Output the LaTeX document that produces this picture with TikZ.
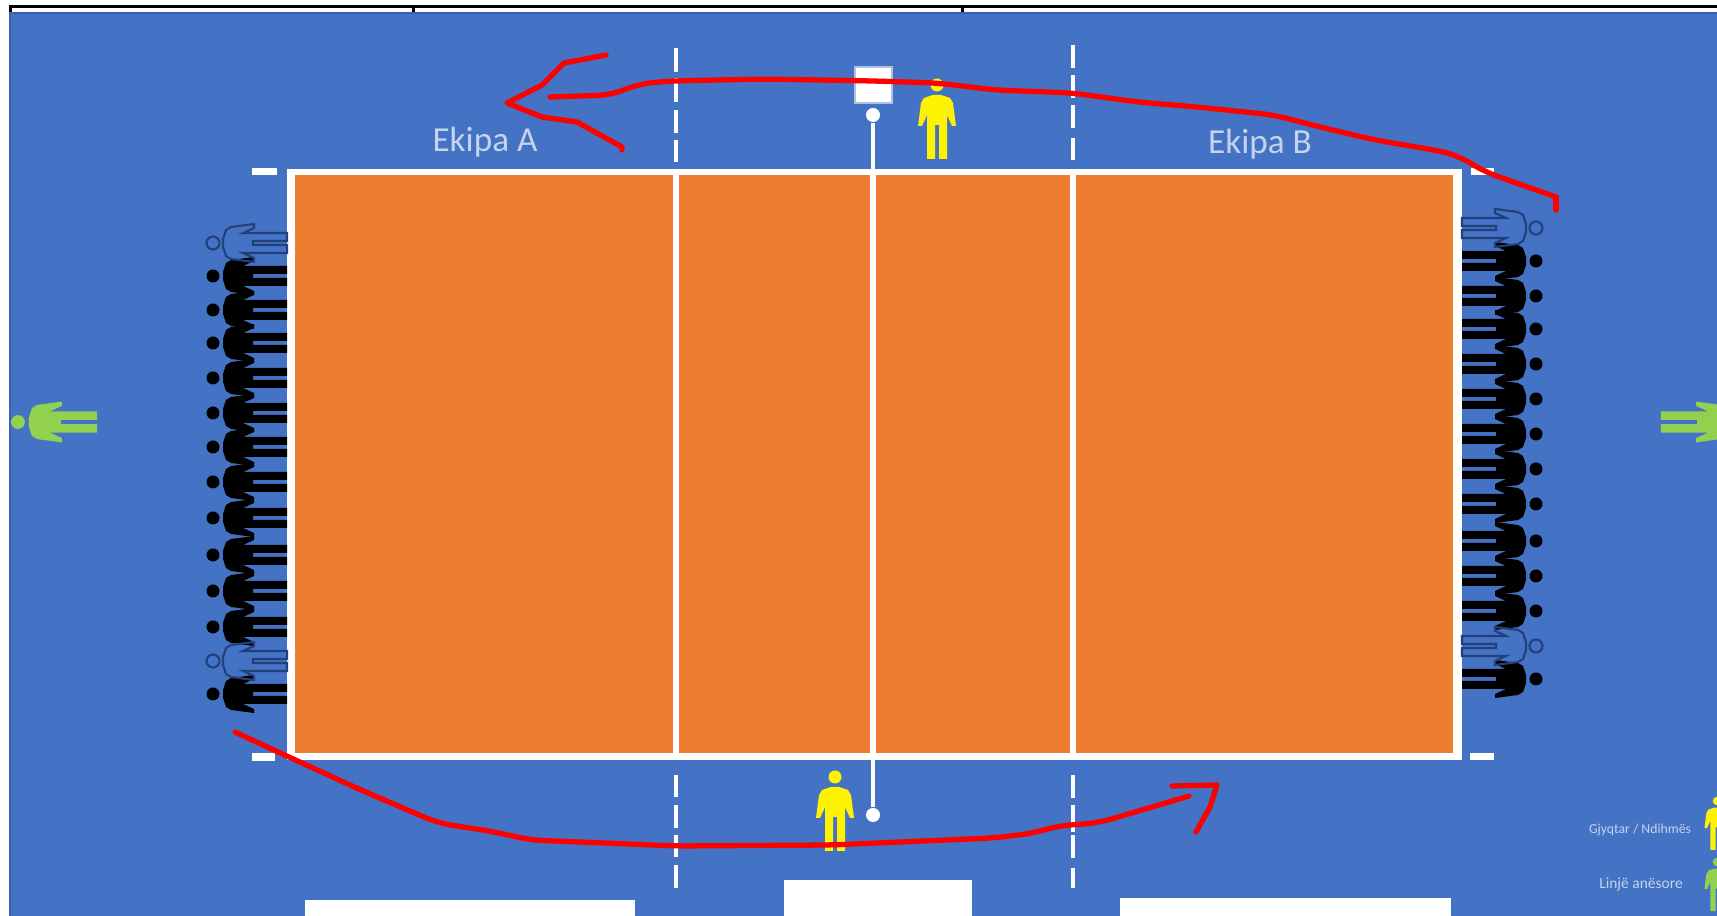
\documentclass[tikz,border=0pt]{standalone}
\usepackage{fontspec}
\setmainfont{Carlito}
\usepackage{xcolor}
\definecolor{floorblue}{HTML}{4472C4}
\definecolor{edgeblue}{HTML}{3A62AD}
\definecolor{courtorange}{HTML}{ED7D31}
\definecolor{judgegreen}{HTML}{92D050}
\definecolor{teamtext}{HTML}{C5D3EC}
\definecolor{outlineblue}{HTML}{24407A}
\tikzset{
  person/.pic={
    \path[pic actions] (0,0) circle[radius=6.5];
    \path[pic actions] (10,-4) -- (13,-13) -- (18,-16) -- (41,-19) -- (41,-15) -- (30,-10) -- (74,-10) -- (74,-2) -- (40,-2)
      -- (40,2) -- (74,2) -- (74,10) -- (30,10) -- (41,15) -- (41,19) -- (18,16) -- (13,13) -- (10,4) -- cycle;
  },
  benchplayer/.style={fill=black},
  liberoplayer/.style={draw=outlineblue, line width=0.6pt},
  referee/.style={fill=yellow, rotate=-90},
  linejudge/.style={fill=judgegreen, scale=1.07},
  sideline/.style={white, line width=1.6pt},
  dashline/.style={white, line width=1.3pt},
  redstroke/.style={red, line width=1.5pt, rounded corners=4pt, line cap=round},
  redhead/.style={red, line width=1.5pt, line join=round, line cap=round},
  teamlabel/.style={text=teamtext, font=\fontsize{10pt}{12pt}\selectfont},
  keylabel/.style={text=teamtext, font=\fontsize{3.9pt}{4.5pt}\selectfont}
}
\begin{document}
\begin{tikzpicture}[x=0.01cm, y=-0.01cm]
  \useasboundingbox (0,0) rectangle (1717,916);
  \clip (0,0) rectangle (1717,916);
  \fill[white] (0,0) rectangle (1717,916);

  % Table rule
  \fill[black] (9,5) rectangle (1717,8);
  \fill[black] (9,5) rectangle (12,12);
  \fill[black] (412,5) rectangle (415,12);
  \fill[black] (961,5) rectangle (964,12);

  % Floor
  \draw[fill=floorblue, draw=edgeblue, line width=0.5pt] (10,13) rectangle (1730,930);

  % Court
  \fill[white] (287,169) rectangle (1462,760);
  \fill[courtorange] (295,175) rectangle (1453,753);
  \draw[sideline] (676,172) -- (676,756);
  \draw[sideline] (873,172) -- (873,756);
  \draw[sideline] (1073,172) -- (1073,756);

  % Corner marks
  \fill[white] (252,168) rectangle (277,175);
  \fill[white] (252,753) rectangle (275,761);
  \fill[white] (1471,168) rectangle (1494,175);
  \fill[white] (1470,753) rectangle (1494,760);

  % Dashes beyond the attack lines
  \foreach \ya/\yb in {48/72, 78/102, 110/133, 140/162, 775/797, 805/828, 835/857, 865/888}
    \draw[dashline] (676,\ya) -- (676,\yb);
  \foreach \ya/\yb in {45/68, 75/98, 105/128, 138/160, 775/798, 805/832, 835/858, 868/888}
    \draw[dashline] (1073,\ya) -- (1073,\yb);

  % Net posts and scorer box
  \node[circle, fill=white, inner sep=0pt, minimum size=1.4mm] (topball) at (873,115) {};
  \node[circle, fill=white, inner sep=0pt, minimum size=1.4mm] (bottomball) at (873,815) {};
  \coordinate (topfoot) at (873,172);
  \coordinate (bottomfoot) at (873,756);
  \draw[white, line width=1.2pt] (topball) -- (topfoot);
  \draw[white, line width=1.2pt] (bottomball) -- (bottomfoot);
  \draw[fill=white, draw=edgeblue!40!white, line width=0.4pt] (855,67) rectangle (892,103);

  % Team names
  \node[teamlabel] (teama) at (485,142) {Ekipa A};
  \node[teamlabel] (teamb) at (1260,144) {Ekipa B};

  % Bench A
  \foreach \y in {276,310,343,378,413,447,482,518,555,591,627,694}
    \pic[benchplayer] at (213,\y) {person};
  \foreach \y in {243,661}
    \pic[liberoplayer] at (213,\y) {person};

  % Bench B
  \foreach \y in {261,296,329,364,399,434,469,504,541,576,611,679}
    \pic[benchplayer, xscale=-1] at (1536,\y) {person};
  \foreach \y in {228,646}
    \pic[liberoplayer, xscale=-1] at (1536,\y) {person};

  % Referees and line judges
  \pic[referee] at (937,85) {person};
  \pic[referee] at (835,777) {person};
  \pic[linejudge] at (18,422) {person};
  \pic[linejudge, xscale=-1] at (1740,422) {person};

  % Bottom boxes
  \fill[white] (305,900) rectangle (635,930);
  \fill[white] (784,880) rectangle (972,930);
  \fill[white] (1120,898) rectangle (1451,930);

  % Key
  \node[keylabel] (keyreferee) at (1640,830) {Gjyqtar / Ndihmës};
  \node[keylabel, font=\fontsize{4.4pt}{5pt}\selectfont] (keyjudge) at (1641,885) {Linjë anësore};
  \pic[referee, scale=0.66] at (1717,801) {person};
  \pic[linejudge, rotate=-90, scale=0.62] at (1717,862) {person};

  % Red strokes
  \draw[redstroke] (550,97) -- (612,95) -- (638,84) -- (670,81) -- (765,79) -- (874,81) -- (937,83) -- (995,90) -- (1073,93)
    -- (1137,102) -- (1197,107) -- (1274,115) -- (1320,127) -- (1375,140) -- (1434,150) -- (1457,155) -- (1485,172) -- (1556,197);
  \draw[redhead] (1556,197) -- (1556,210);
  \draw[redhead] (606,55) -- (564,63) -- (542,85) -- (507,103) -- (542,117) -- (577,122) -- (622,147) -- (622,150);
  \draw[redstroke] (235,732) -- (291,758) -- (361,790) -- (438,823) -- (495,832) -- (530,840) -- (677,846) -- (831,845) -- (993,838)
    -- (1035,833) -- (1056,826) -- (1098,823) -- (1189,796);
  \draw[redhead] (1172,786) -- (1217,785) -- (1210,807) -- (1196,832);
\end{tikzpicture}
\end{document}
